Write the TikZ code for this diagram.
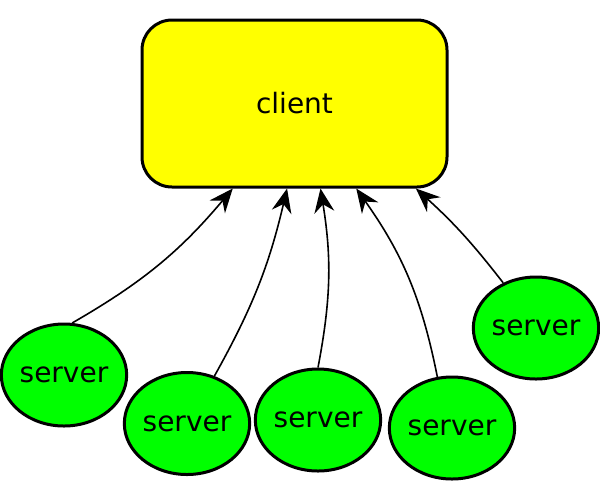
\documentclass[tikz,border=0pt]{standalone}
\usepackage{fontspec}
\setmainfont{DejaVu Sans}
\usetikzlibrary{shapes.geometric,arrows.meta}
\definecolor{clientyellow}{RGB}{255,255,0}
\definecolor{servergreen}{RGB}{0,255,0}

\begin{document}
\begin{tikzpicture}[x=0.5pt,y=-0.5pt,
    box/.style={draw,line width=1.5pt,fill=clientyellow,rounded corners=15pt,minimum width=152.5pt,minimum height=83.5pt,font=\fontsize{14}{16}\selectfont},
    srv/.style={draw,ellipse,line width=1.5pt,fill=servergreen,inner sep=0pt,minimum width=61pt,minimum height=51pt,font=\fontsize{14}{16}\selectfont},
    link/.style={-{Stealth[length=12pt,width=10pt,inset=4pt]},line width=0.8pt}]
    \useasboundingbox(0,0)rectangle(600,500);
    \node[box](client)at(294.5,103.5){client};
    \node[srv](server1)at(64,375){server};
    \node[srv](server2)at(187,423.5){server};
    \node[srv](server3)at(318,420){server};
    \node[srv](server4)at(452,428){server};
    \node[srv](server5)at(536,328){server};
    \draw[link](server1.81)to[bend right=10](client.-126);
    \draw[link](server2.60)to[bend right=8](client.-95);
    \draw[link](server3.90)to[bend right=10](client.-73);
    \draw[link](server4.106)to[bend right=12](client.-54);
    \draw[link](server5.126)to[bend right=5](client.-35);
\end{tikzpicture}
\end{document}
